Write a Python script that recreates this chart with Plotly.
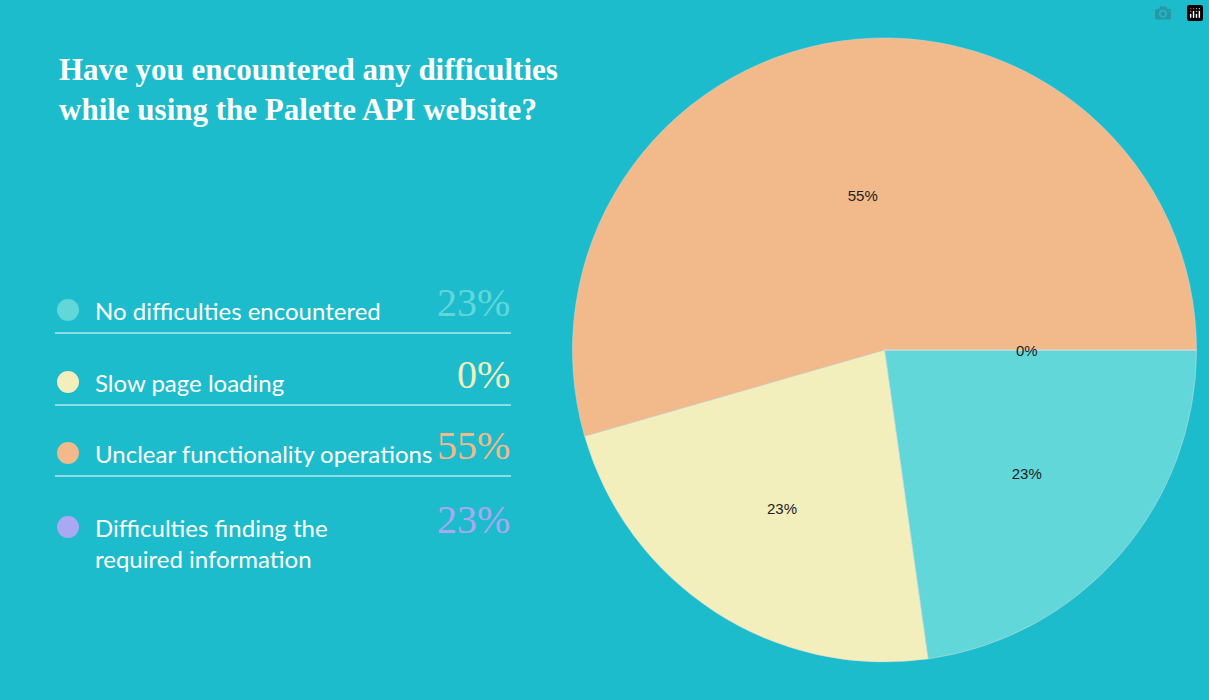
import plotly.graph_objects as go

# legend data
categories = ["No difficulties encountered", "Slow page loading",
              "Unclear functionality operations",
              "Difficulties finding the<br>required information"]
legend_pct = [23, 0, 55, 23]
colors = ["#62d7da", "#f2efbd", "#f2b98a", "#aaa8f2"]

# pie slices as drawn (clockwise from 3 o'clock)
pie_values = [23, 23, 55, 0]
pie_colors = ["#62d7da", "#f2efbd", "#f2b98a", "#aaa8f2"]

bg = "#1dbccc"
W, H = 1209, 700

fig = go.Figure()
fig.add_trace(go.Pie(
    values=pie_values, marker=dict(colors=pie_colors, line=dict(color="#d8d8d8", width=0.5)),
    sort=False, direction="clockwise", rotation=90,
    texttemplate="%{value}%", textposition="inside", insidetextorientation="horizontal",
    textfont=dict(family="Arial, Liberation Sans", size=15, color="#222"),
    hoverinfo="skip", showlegend=False,
    domain=dict(x=[572 / W, 1197 / W], y=[(H - 662) / H, (H - 38) / H]),
))

# the zero slice gets no label from plotly, so put it at the slice boundary
fig.add_annotation(x=1040 / W, y=1 - 350 / H, xref="paper", yref="paper", showarrow=False,
                   text=f"{pie_values[3]}%",
                   font=dict(family="Arial, Liberation Sans", size=15, color="#222"))

fig.add_annotation(x=57 / W, y=1 - 90 / H, xref="paper", yref="paper", xanchor="left", yanchor="middle",
                   text="<b>Have you encountered any difficulties<br>while using the Palette API website?</b>",
                   align="left", showarrow=False,
                   font=dict(family="Liberation Serif, serif", size=31, color="white"))

rows_y = [310, 382, 453, 527]
for i, (cat, p, c) in enumerate(zip(categories, legend_pct, colors)):
    y = rows_y[i]
    fig.add_shape(type="circle", xref="paper", yref="paper",
                  x0=57 / W, x1=79 / W, y0=1 - (y + 11) / H, y1=1 - (y - 11) / H,
                  fillcolor=c, line=dict(width=0))
    ty = y + 16 if i == 3 else y
    fig.add_annotation(x=93 / W, y=1 - ty / H, xref="paper", yref="paper", xanchor="left", yanchor="middle",
                       text=cat, align="left", showarrow=False,
                       font=dict(family="Lato", size=24, color="white"))
    fig.add_annotation(x=512 / W, y=1 - (y - 8) / H, xref="paper", yref="paper", xanchor="right", yanchor="middle",
                       text=f"{p}%", showarrow=False,
                       font=dict(family="Liberation Serif, serif", size=40, color=c))
    if i < 3:
        ly = 1 - (y + 23) / H
        fig.add_shape(type="line", xref="paper", yref="paper", x0=55 / W, x1=511 / W, y0=ly, y1=ly,
                      line=dict(color="white", width=1))

fig.update_layout(width=W, height=H, paper_bgcolor=bg, plot_bgcolor=bg,
                  margin=dict(l=0, r=0, t=0, b=0))
fig.write_html("out.html",
               post_script="document.body.style.margin='0';document.body.style.background='#1dbccc';")
